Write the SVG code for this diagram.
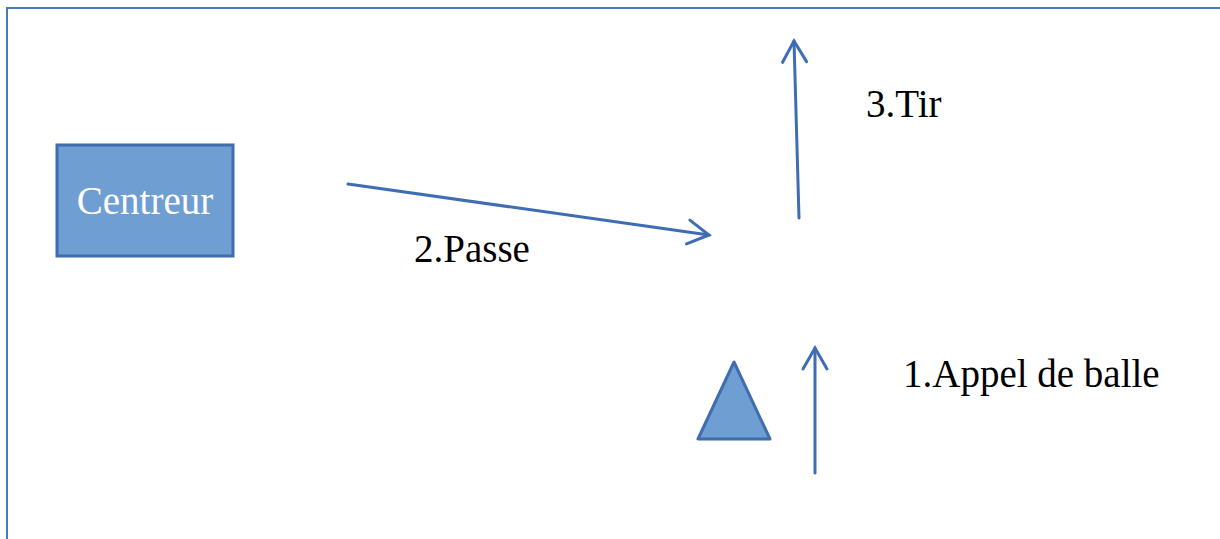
<svg xmlns="http://www.w3.org/2000/svg" width="1220" height="539" viewBox="0 0 1220 539">
<defs>
<marker id="arr" markerUnits="userSpaceOnUse" markerWidth="40" markerHeight="40" viewBox="-30 -20 40 40" refX="0" refY="0" orient="auto">
<path d="M-21,-12 L0,0 L-21,12" fill="none" stroke="#3E6DB5" stroke-width="3" stroke-linecap="round" stroke-linejoin="miter"/>
</marker>
</defs>
<style>
.lbl{font-family:'Liberation Serif','Tinos','DejaVu Serif',serif;font-size:39px;fill:#000}
.con{stroke:#3E6DB5;stroke-width:3;fill:none;stroke-linecap:round;marker-end:url(#arr)}
</style>
<rect x="0" y="0" width="1220" height="539" fill="#fff"/>
<rect x="7" y="8" width="1300" height="600" fill="none" stroke="#4A78C8" stroke-width="2"/>
<g id="centreur">
<rect x="57" y="145" width="176" height="111" fill="#6F9ED3" stroke="#3F6DB0" stroke-width="3"/>
<text class="lbl" x="145" y="214" text-anchor="middle" style="fill:#fff">Centreur</text>
</g>
<g id="joueur">
<polygon points="734,362 698,439 770,439" fill="#6F9ED3" stroke="#3F6DB0" stroke-width="3" stroke-linejoin="round"/>
</g>
<g id="connectors">
<line class="con" x1="348" y1="184" x2="709" y2="235"/>
<line class="con" x1="799" y1="218" x2="794" y2="41"/>
<line class="con" x1="815" y1="473" x2="815" y2="348"/>
</g>
<g id="labels">
<text class="lbl" x="866" y="117">3.Tir</text>
<text class="lbl" x="414" y="262">2.Passe</text>
<text class="lbl" x="903" y="387">1.Appel de balle</text>
</g>
</svg>
